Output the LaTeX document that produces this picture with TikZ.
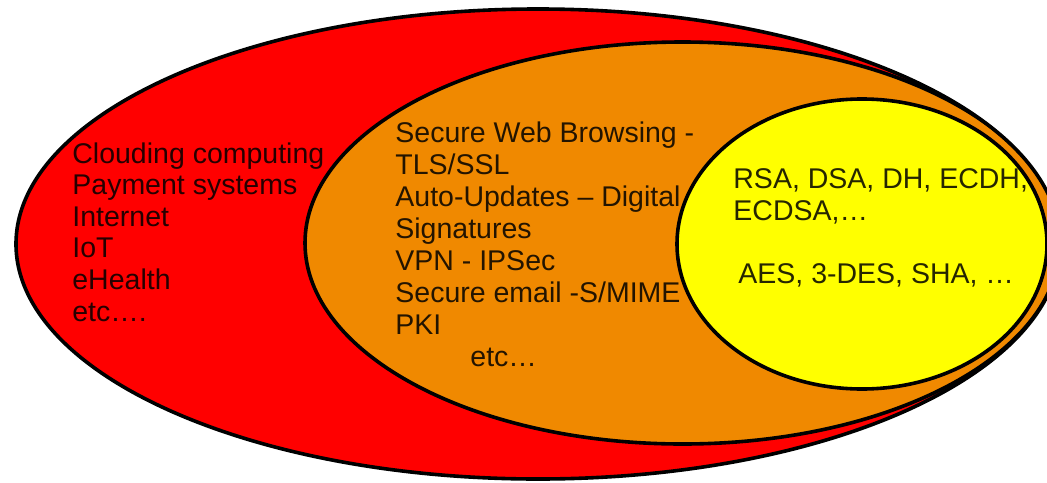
\documentclass[tikz,border=0pt]{standalone}
\usepackage{fontspec}
\setmainfont{Liberation Sans}
\definecolor{cred}{RGB}{255,0,0}
\definecolor{corange}{RGB}{240,137,0}
\definecolor{cyellow}{RGB}{255,255,0}
\tikzset{
  blob/.style={draw=black, line width=1.8pt},
  lbl/.style={anchor=base west, inner sep=0pt, text=black, text opacity=0.85,
    font=\fontsize{14.25}{15.5}\selectfont}
}
\begin{document}
\begin{tikzpicture}[x=0.5pt, y=-0.5pt]
\useasboundingbox (0,0) rectangle (1047,482);
\clip (0,0) rectangle (1047,482);
\fill[white] (0,0) rectangle (1047,482);
\path[fill=cred] (538,244) ellipse [x radius=522, y radius=235];
\begin{scope}
  \clip (538,244) ellipse [x radius=522, y radius=235];
  \path[blob, fill=corange] (682.5,243) ellipse [x radius=377.5, y radius=201];
\end{scope}
\path[blob] (538,244) ellipse [x radius=522, y radius=235];
\path[blob, fill=cyellow] (862,244) ellipse [x radius=185, y radius=145];
% red zone
\node[lbl] (r1) at (72,163) {Clouding computing};
\node[lbl] (r2) at (72,194.6) {Payment systems};
\node[lbl] (r3) at (72,226.2) {Internet};
\node[lbl] (r4) at (72,257.8) {IoT};
\node[lbl] (r5) at (72,289.4) {eHealth};
\node[lbl] (r6) at (72,321) {etc….};
% orange zone
\node[lbl] (o1) at (395,142) {Secure Web Browsing -};
\node[lbl] (o2) at (395,174) {TLS/SSL};
\node[lbl] (o3) at (395,206) {Auto-Updates – Digital};
\node[lbl] (o4) at (395,238) {Signatures};
\node[lbl] (o5) at (395,270) {VPN - IPSec};
\node[lbl] (o6) at (395,302) {Secure email -S/MIME};
\node[lbl] (o7) at (395,334) {PKI};
\node[lbl] (o8) at (470,366) {etc…};
% yellow zone
\node[lbl] (y1) at (733,188) {RSA, DSA, DH, ECDH,};
\node[lbl] (y2) at (733,220) {ECDSA,…};
\node[lbl] (y3) at (738,283) {AES, 3-DES, SHA, …};
\end{tikzpicture}
\end{document}
